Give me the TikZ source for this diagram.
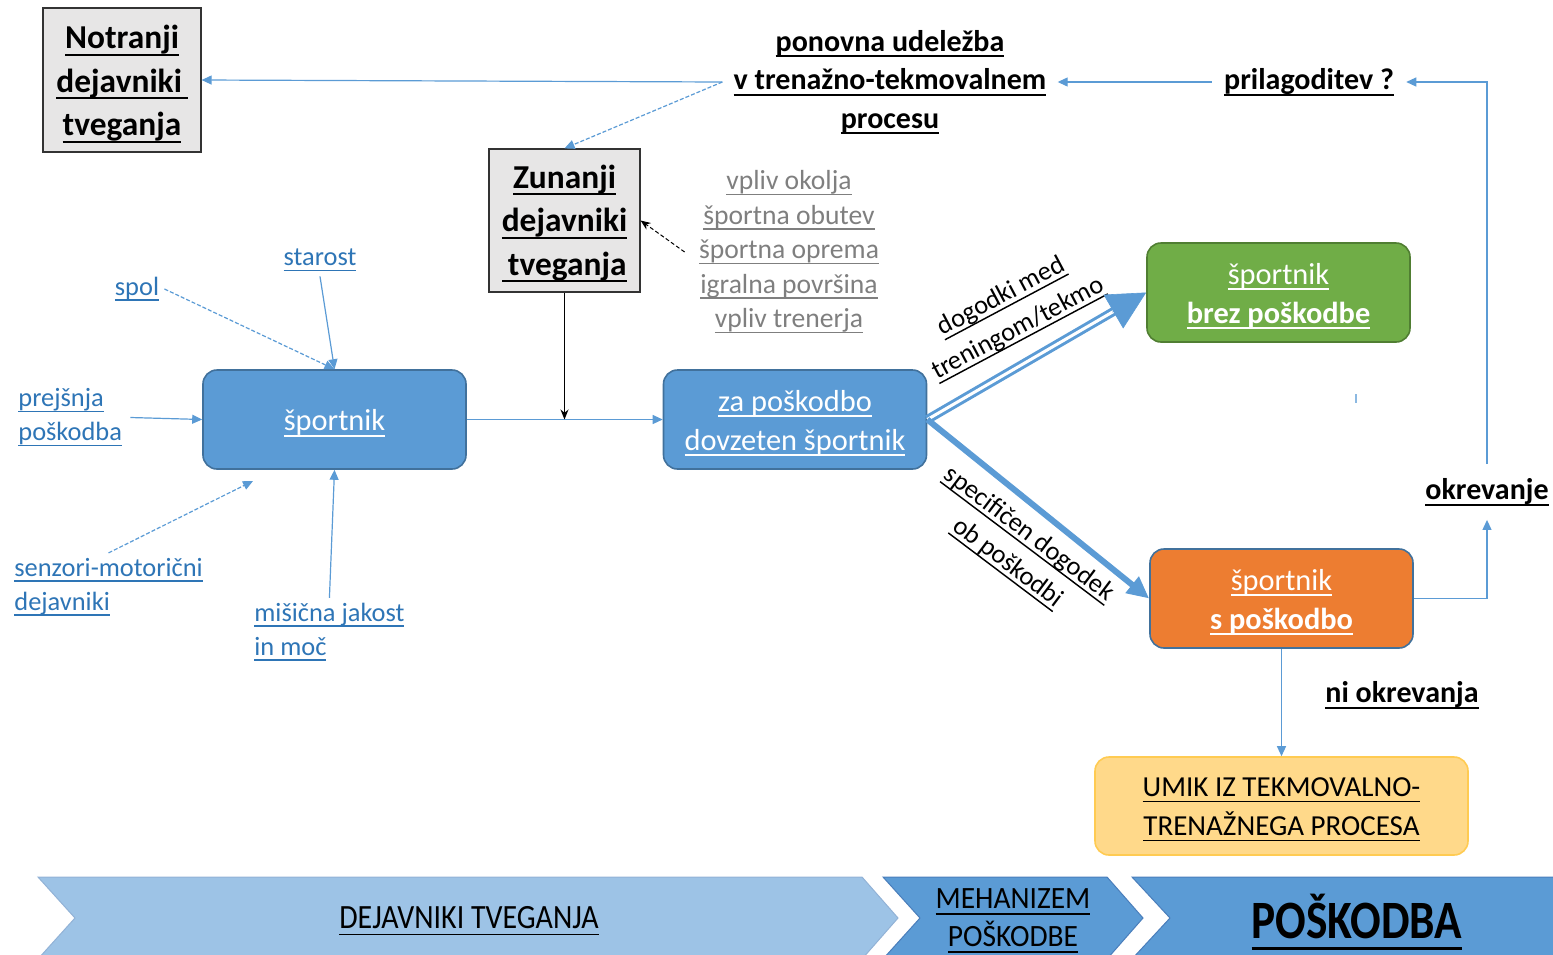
\documentclass[tikz,border=0pt]{standalone}
\usepackage{fontspec}
\setmainfont{Carlito}
\usepackage{graphicx}
\usetikzlibrary{arrows.meta}
\definecolor{boxblue}{HTML}{5B9BD5}
\definecolor{bborder}{HTML}{41719C}
\definecolor{boxgreen}{HTML}{70AD47}
\definecolor{gborder}{HTML}{507E32}
\definecolor{boxorange}{HTML}{ED7D31}
\definecolor{umikfill}{HTML}{FFD98A}
\definecolor{umikborder}{HTML}{FFCB52}
\definecolor{boxgray}{HTML}{E7E6E6}
\definecolor{lblue}{HTML}{2E75B6}
\definecolor{ablue}{HTML}{5B9BD5}
\definecolor{listgray}{HTML}{7F7F7F}
\definecolor{chevlight}{HTML}{9DC3E6}
\definecolor{chevedge}{HTML}{4A7EBB}
\newcommand\uln[1]{\leavevmode\setbox0=\hbox{#1}\rlap{\lower0.2em\hbox{\vrule width\wd0 height0.055em depth0pt}}\box0}
\tikzset{
  graybox/.style={draw=black!80, fill=boxgray, line width=0.6pt, inner sep=0pt},
  graytext/.style={align=center, inner sep=0pt, font=\fontsize{16.7}{21.75}\selectfont\bfseries},
  rbox/.style={rounded corners=7pt, line width=0.8pt, draw=bborder,
    inner sep=0pt, minimum width=131.5pt, minimum height=49.5pt},
  rtext/.style={text=white, align=center, inner sep=0pt, font=\fontsize{15.2}{19.5}\selectfont},
  lbl/.style={text=lblue, font=\fontsize{13.2}{17}\selectfont, align=left, inner sep=2.5pt},
  boldlbl/.style={font=\fontsize{15}{19.25}\selectfont\bfseries, align=center},
  tarr/.style={draw=ablue, line width=0.6pt, -{Triangle[length=5pt,width=4.5pt]}},
  tdash/.style={tarr, dash pattern=on 2pt off 1pt},
}
\begin{document}
\begin{tikzpicture}[x=0.5pt,y=-0.5pt]
\useasboundingbox (0,0) rectangle (1553,954);
% bottom chevrons
\begin{scope}
\clip (0,0) rectangle (1553,954);
\filldraw[fill=chevlight, draw=chevedge!60, line width=0.5pt]
  (38,877) -- (862,877) -- (898,918) -- (862,959) -- (38,959) -- (75,918) -- cycle;
\filldraw[fill=boxblue, draw=chevedge, line width=0.5pt]
  (883,877) -- (1107,877) -- (1143,918) -- (1107,959) -- (883,959) -- (920,918) -- cycle;
\filldraw[fill=boxblue, draw=chevedge, line width=0.5pt]
  (1132,877) -- (1560,877) -- (1560,959) -- (1132,959) -- (1170,918) -- cycle;
\end{scope}
\node[font=\fontsize{17}{19}\selectfont, inner sep=0pt] (c1) at (469,921) {\scalebox{0.88}[1]{\uln{DEJAVNIKI TVEGANJA}}};
\node[font=\fontsize{15.5}{19}\selectfont, align=center, inner sep=0pt] (c2) at (1013,921) {\scalebox{0.95}[1]{\uln{MEHANIZEM}}\\\scalebox{0.95}[1]{\uln{POŠKODBE}}};
\node[font=\fontsize{27}{30}\selectfont\bfseries, inner sep=0pt] (c3) at (1357,922) {\scalebox{0.84}[1]{\uln{POŠKODBA}}};

% gray boxes
\node[graybox, minimum width=79pt, minimum height=72pt] (notr) at (122,80) {};
\node[graytext] (notrt) at ([yshift=-2pt]notr.center) {\uln{Notranji}\\\uln{dejavniki\,}\\\uln{tveganja}};
\node[graybox, minimum width=75.5pt, minimum height=71.5pt] (zun) at (564.5,220.5) {};
\node[graytext] (zunt) at ([yshift=-1.5pt]zun.center) {\uln{Zunanji}\\\uln{dejavniki}\\\uln{\,tveganja}};

% top texts
\node[boldlbl, inner sep=5.5pt] (pon) at (890,82)
  {\uln{ponovna udeležba}\\\uln{v trenažno-tekmovalnem}\\\uln{procesu}};
\node[boldlbl, inner sep=6pt] (pril) at (1309,82) {\uln{prilagoditev ?}};
\node[boldlbl, inner xsep=5pt, inner ysep=7pt] (okr) at (1487,492) {\uln{okrevanje}};
\node[boldlbl] (niokr) at (1402,695) {\uln{ni okrevanja}};

% gray list
\node[text=listgray, font=\fontsize{13.8}{17.25}\selectfont, align=center, inner sep=7pt] (list) at (789,252)
  {\uln{vpliv okolja}\\\uln{športna obutev}\\\uln{športna oprema}\\\uln{igralna površina}\\\uln{vpliv trenerja}};

% rounded boxes
\node[rbox, fill=boxblue] (sp) at (334.5,419.5) {};
\node[rtext] (spt) at ([yshift=-1.75pt]sp.center) {\uln{športnik}};
\node[rbox, fill=boxblue] (zp) at (795,419.5) {};
\node[rtext] (zpt) at ([yshift=-1.75pt]zp.center) {\uln{za poškodbo}\\\uln{dovzeten športnik}};
\node[rbox, fill=boxgreen, draw=gborder] (gr) at (1278.5,292.5) {};
\node[rtext] (grt) at ([yshift=-1.75pt]gr.center) {\uln{športnik}\\\textbf{\uln{brez poškodbe}}};
\node[rbox, fill=boxorange] (or) at (1281.5,598.5) {};
\node[rtext] (ort) at ([yshift=-1.75pt]or.center) {\uln{športnik}\\\textbf{\uln{s poškodbo}}};
\node[rbox, fill=umikfill, draw=umikborder, minimum width=186.5pt, minimum height=49pt] (umik) at (1281.5,806) {};
\node[rtext, text=black, font=\fontsize{14.5}{19.5}\selectfont] (umikt) at ([yshift=-1.75pt]umik.center)
  {\uln{UMIK IZ TEKMOVALNO-}\\\uln{TRENAŽNEGA PROCESA}};

% left labels
\node[lbl] (star) at (320,260) {\uln{starost}};
\node[lbl] (spol) at (137,289) {\uln{spol}};
\node[lbl, anchor=west, inner sep=4pt] (prej) at (10,417.5) {\uln{prejšnja}\\\uln{poškodba}};
\node[lbl, anchor=west] (senz) at (9,587) {\uln{senzori-motorični}\\\uln{dejavniki}};
\node[lbl, anchor=west] (mis) at (249,632) {\uln{mišična jakost}\\\uln{in moč}};
\coordinate (senzend) at (253,481);

% rotated labels
\node[rotate=28, font=\fontsize{13.2}{18}\selectfont, align=center] (lab1) at (1010,313)
  {\uln{dogodki med}\\\uln{treningom/tekmo}};
\node[rotate=-37, font=\fontsize{13.2}{18}\selectfont, align=center] (lab2) at (1018,549)
  {\uln{specifičen dogodek}\\\uln{ob poškodbi}};

% connectors
\draw[tarr] (pon.west) -- (notr.east);
\draw[tdash] (pon.west) -- (zun.north);
\draw[tarr] (pril.west) -- (pon.east);
\draw[tarr] (okr.north) |- (pril.east);
\draw[tarr] (or.east) -| (okr.south);
\draw[tarr] (or.south) -- (umik.north);
\draw[tarr] (sp.east) -- (zp.west);
\draw[line width=0.6pt, -{Stealth[length=5pt,width=4pt]}] (zun.south) -- (zun.south |- sp.east);
\draw[line width=0.5pt, dash pattern=on 2pt off 1.2pt, -{Stealth[length=5pt,width=4pt]}] (list.west) -- (zun.east);

\draw[tarr] (star.south) -- (sp.north);
\draw[tdash] (spol.east) -- (sp.north);
\draw[tarr] (prej.east) -- (sp.west);
\draw[tdash] (senz.north) -- (senzend);
\draw[tarr] (mis.north) -- (sp.south);

% big arrows
\draw[ablue, line width=1.5pt, double=white, double distance=1.5pt, shorten >=17pt] (zp.east) -- (gr.west);
\draw[ablue, line width=0.3pt, shorten <=107pt, -{Triangle[length=19pt,width=19.5pt]}] (zp.east) -- (gr.west);
\draw[ablue, line width=3pt, -{Triangle[length=11pt,width=10pt]}] (zp.east) -- (or.west);

% small mark
\draw[ablue!70, line width=0.8pt] (1356,394) -- (1356,403);
\end{tikzpicture}
\end{document}
